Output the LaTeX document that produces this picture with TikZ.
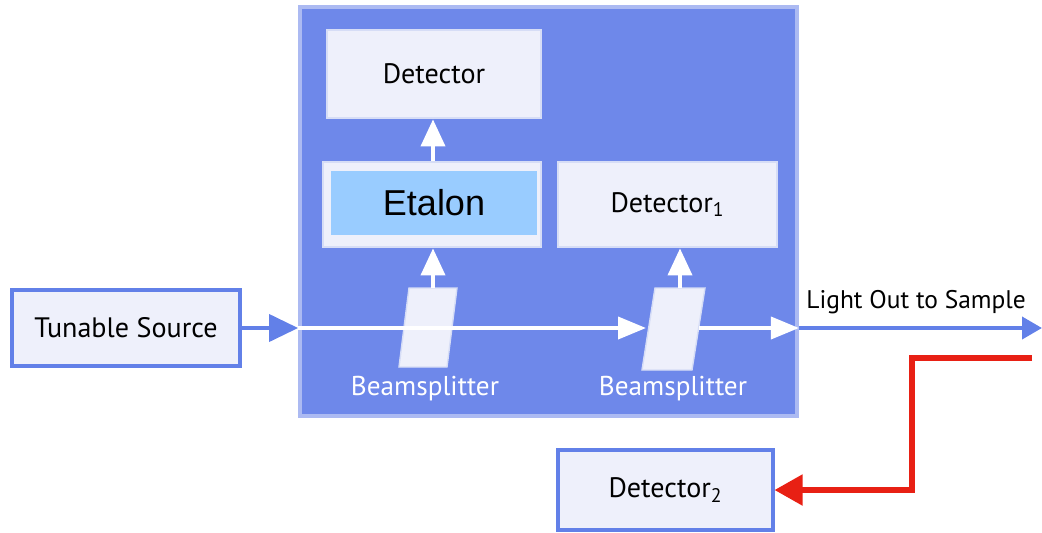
\documentclass[tikz,border=0pt]{standalone}
\usepackage{fontspec}
\setmainfont{PT Sans}
\newfontfamily\arialfont{Liberation Sans}
\usetikzlibrary{arrows.meta}
\definecolor{panelblue}{RGB}{110,136,234}
\definecolor{panelrim}{RGB}{172,186,242}
\definecolor{boxfill}{RGB}{238,240,251}
\definecolor{boxrim}{RGB}{214,221,246}
\definecolor{etalonfill}{RGB}{153,204,255}
\definecolor{lineblue}{RGB}{98,128,232}
\definecolor{sigred}{RGB}{232,32,20}

\begin{document}
\begin{tikzpicture}[x=0.02cm,y=-0.02cm]
            \tikzstyle{every node}+=[inner sep=0pt, font=\fontsize{16}{18}\selectfont]
            \tikzstyle{inbox}=[draw=boxrim, line width=1.6pt, fill=boxfill]
            \tikzstyle{outbox}=[draw=lineblue, line width=1.8pt, fill=boxfill]
            \tikzstyle{splitter}=[draw=boxrim, line width=0.8pt, fill=boxfill]
            \tikzstyle{beam}=[white, line width=2.2pt, -{Triangle[length=0.56cm,width=0.44cm]}]
            \tikzstyle{uparrow}=[white, line width=2.2pt, -{Triangle[length=0.54cm,width=0.48cm]}]
            \tikzstyle{bluearrow}=[lineblue, line width=2.2pt, -{Triangle[length=0.58cm,width=0.54cm]}]
            \tikzstyle{redarrow}=[sigred, line width=3pt, -{Triangle[length=0.56cm,width=0.6cm]}]
            \tikzstyle{bslabel}=[text=white, font=\fontsize{15.5}{17}\selectfont]
            \useasboundingbox (0,0) rectangle (1042,532);
            \node [draw=panelrim, line width=2.2pt, fill=panelblue, minimum width=9.94cm, minimum height=8.18cm] (panel) at (548.5,211.5) {};
            \node [inbox, minimum width=4.28cm, minimum height=1.76cm] (det0) at (434,74) {Detector};
            \node [inbox, minimum width=4.36cm, minimum height=1.7cm] (etalon) at (432,204.5) {};
            \node [fill=etalonfill, minimum width=4.12cm, minimum height=1.28cm, font=\arialfont\fontsize{20.5}{22}\selectfont] (etalontext) at (434,203) {Etalon};
            \node [inbox, minimum width=4.38cm, minimum height=1.7cm] (det1) at (667.5,204.5) {Detector\textsubscript{1}};
            \node [outbox, minimum width=4.56cm, minimum height=1.52cm] (source) at (126,328) {Tunable Source};
            \node [outbox, minimum width=4.3cm, minimum height=1.6cm] (det2) at (665.5,490) {Detector\textsubscript{2}};
            \coordinate (bs1top) at (433,288);
            \coordinate (bs2top) at (680,288);
            \coordinate (bs2in) at (646,328);
            \coordinate (bs2out) at (699,328);
            \coordinate (outend) at (1042,328);
            \coordinate (ret) at (1032,358);
            \draw [splitter] (409,288) -- (457,288) -- (447,367) -- (399,367) -- cycle;
            \draw [splitter] (655,288) -- (705,288) -- (692,370) -- (642,370) -- cycle;
            \draw [beam] (panel.west |- bs2in) -- (bs2in);
            \draw [beam] (bs2out) -- (panel.east |- bs2out);
            \draw [uparrow] (bs1top) -- (bs1top |- etalon.south);
            \draw [uparrow] (etalon.north -| bs1top) -- (bs1top |- det0.south);
            \draw [uparrow] (bs2top) -- (bs2top |- det1.south);
            \draw [bluearrow] (source.east) -- (panel.west |- source.east);
            \draw [lineblue, line width=2.2pt, -{Triangle[length=0.4cm,width=0.44cm]}] (panel.east |- outend) -- (outend);
            \draw [redarrow] (ret) -- ++(-120,0) |- (det2.east);
            \node [bslabel] (bslab1) at (425,389) {Beamsplitter};
            \node [bslabel] (bslab2) at (673,389) {Beamsplitter};
            \node [anchor=west, font=\fontsize{14.5}{16}\selectfont] (outlab) at (806,302) {Light Out to Sample};
        \end{tikzpicture}
\end{document}
